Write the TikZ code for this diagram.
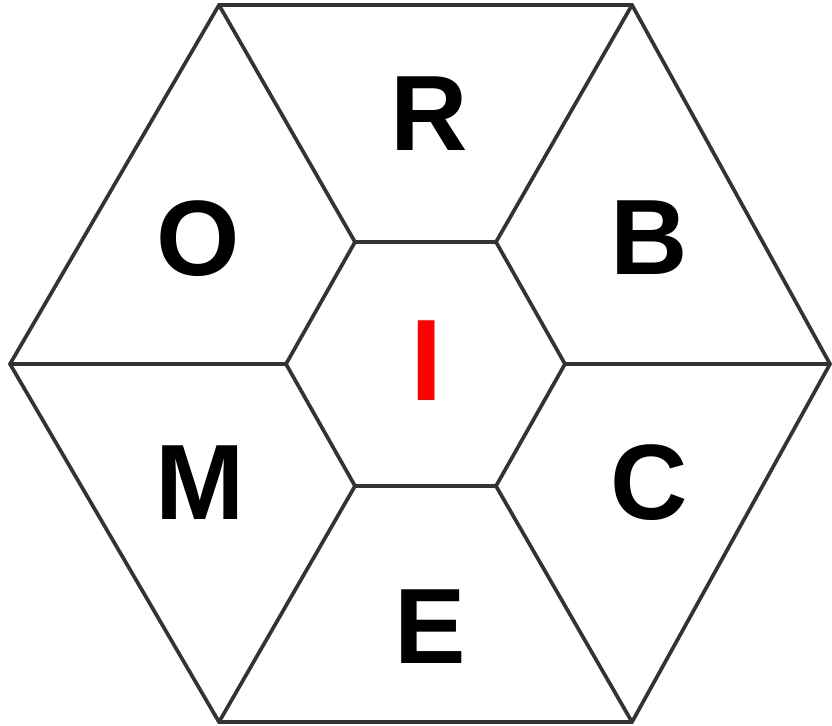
\documentclass[tikz,border=0pt]{standalone}
\usepackage{fontspec}
\setmainfont{Liberation Sans}
\usepackage{xcolor}
\usetikzlibrary{positioning,calc}
\definecolor{edgegray}{HTML}{333333}
\tikzset{
  cell/.style={draw=edgegray, line width=2.1pt, line join=miter},
  letter/.style={font=\fontsize{61}{61}\selectfont\bfseries, inner sep=0pt, text=black},
  core/.style={letter, font=\fontsize{66}{66}\selectfont\bfseries, text=red},
}

\begin{document}
\begin{tikzpicture}[x=0.02cm, y=-0.02cm]
    \useasboundingbox (0,0) rectangle (832,725);
    % outer hexagon
    \coordinate (O1) at (219,5);
    \coordinate (O2) at (632,5);
    \coordinate (O3) at (830,364);
    \coordinate (O4) at (632,722);
    \coordinate (O5) at (219,722);
    \coordinate (O6) at (10,364);
    % inner hexagon
    \coordinate (I1) at (355,242);
    \coordinate (I2) at (496,242);
    \coordinate (I3) at (565,364);
    \coordinate (I4) at (496,486);
    \coordinate (I5) at (355,486);
    \coordinate (I6) at (286,364);
    \draw[cell] (O1) -- (O2) -- (O3) -- (O4) -- (O5) -- (O6) -- cycle;
    \draw[cell] (I1) -- (I2) -- (I3) -- (I4) -- (I5) -- (I6) -- cycle;
    \draw[cell] (O1) -- (I1);
    \draw[cell] (O2) -- (I2);
    \draw[cell] (O3) -- (I3);
    \draw[cell] (O4) -- (I4);
    \draw[cell] (O5) -- (I5);
    \draw[cell] (O6) -- (I6);
    % letters
    \node[letter] (R) at (429,114) {R};
    \node[letter] (B) at (649,238) {B};
    \node[letter] (C) at (649,483) {C};
    \node[letter] (E) at (430,627) {E};
    \node[letter] (M) at (200,483) {M};
    \node[letter] (O) at (198,239) {O};
    \node[core] (I) at (427,361) {I};
\end{tikzpicture}
\end{document}
